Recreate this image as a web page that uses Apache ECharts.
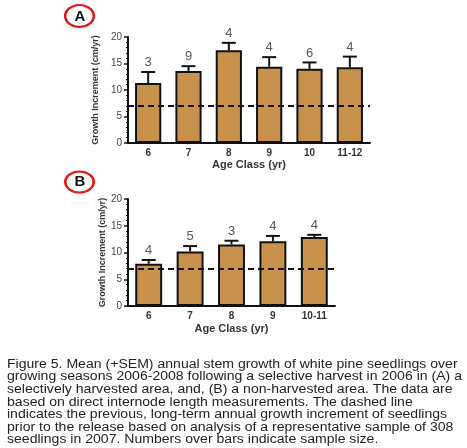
<!DOCTYPE html>
<html><head><meta charset="utf-8">
<script src="https://cdn.jsdelivr.net/npm/echarts@6/dist/echarts.min.js"></script>
<style>html,body{margin:0;padding:0;background:#fff}#c{width:467px;height:448px}</style>
</head><body><div id="c"></div>
<script>
var categoriesA = ['6', '7', '8', '9', '10', '11-12'];
var meanA = [11.3, 13.6, 17.5, 14.4, 14.0, 14.3];
var upperA = [13.4, 14.5, 18.9, 16.2, 15.2, 16.3];
var samplesA = [3, 9, 4, 4, 6, 4];

var categoriesB = ['6', '7', '8', '9', '10-11'];
var meanB = [7.9, 10.2, 11.5, 12.1, 12.9];
var upperB = [8.6, 11.2, 12.2, 13.1, 13.3];
var samplesB = [4, 5, 3, 4, 4];

var baseline = 7;
var yTicks = [0, 5, 10, 15, 20];
var yName = 'Growth Increment (cm/yr)';
var xName = 'Age Class (yr)';
var caption = [
  'Figure 5. Mean (+SEM) annual stem growth of white pine seedlings over',
  'growing seasons 2006-2008 following a selective harvest in 2006 in (A) a',
  'selectively harvested area, and, (B) a non-harvested area. The data are',
  'based on direct internode length measurements. The dashed line',
  'indicates the previous, long-term annual growth increment of seedlings',
  'prior to the release based on analysis of a representative sample of 308',
  'seedlings in 2007. Numbers over bars indicate sample size.'
];

var FONT = 'Liberation Sans, Arial, sans-serif';
var BAR = '#c8924d';

function errData(mean, upper) {
  return mean.map(function (m, i) { return [i, m, upper[i]]; });
}
function errRender(samples) {
  return function (params, api) {
    var x = api.value(0);
    var p0 = api.coord([x, api.value(1)]);
    var p1 = api.coord([x, api.value(2)]);
    var half = 7;
    var st = { stroke: '#111', lineWidth: 2 };
    return {
      type: 'group',
      children: [
        { type: 'line', shape: { x1: p0[0], y1: p0[1], x2: p1[0], y2: p1[1] }, style: st },
        { type: 'line', shape: { x1: p1[0] - half, y1: p1[1], x2: p1[0] + half, y2: p1[1] }, style: st },
        { type: 'text', x: p1[0], y: p1[1] - 3, style: { text: String(samples[params.dataIndex]), align: 'center', verticalAlign: 'bottom', fontSize: 13, fontFamily: FONT, fill: '#555' } }
      ]
    };
  };
}
function xAx(cats, gi, gap) {
  return {
    type: 'category', gridIndex: gi, data: cats,
    name: xName, nameLocation: 'middle', nameGap: gap,
    nameTextStyle: { fontSize: 11, fontWeight: 'bold', color: '#333', fontFamily: FONT },
    axisLine: { lineStyle: { color: '#111', width: 2 } },
    axisTick: { alignWithLabel: true, length: 3, lineStyle: { color: '#111', width: 1.5 } },
    axisLabel: { fontSize: 10, fontWeight: 'bold', color: '#333', margin: 5, fontFamily: FONT }
  };
}
function yAx(gi) {
  return {
    type: 'value', gridIndex: gi, min: yTicks[0], max: yTicks[yTicks.length - 1], interval: yTicks[1] - yTicks[0],
    name: yName, nameLocation: 'middle', nameGap: 20, nameRotate: 90,
    nameTextStyle: { fontSize: 9, fontWeight: 'bold', color: '#333', fontFamily: FONT },
    axisLine: { show: true, lineStyle: { color: '#111', width: 2 } },
    axisTick: { show: true, length: 4, lineStyle: { color: '#111', width: 1.5 } },
    minorTick: { show: true, splitNumber: 5, length: 2, lineStyle: { color: '#111', width: 1 } },
    splitLine: { show: false },
    axisLabel: { fontSize: 10, color: '#444', margin: 6, fontFamily: FONT }
  };
}
function markLine() {
  return {
    silent: true, symbol: 'none', label: { show: false },
    lineStyle: { color: '#111', width: 2, type: [6, 4] },
    data: [{ yAxis: baseline }]
  };
}

var chart = echarts.init(document.getElementById('c'));
chart.setOption({
  backgroundColor: '#fff',
  animation: false,
  grid: [
    { left: 128, right: 97, top: 37, bottom: 305 },
    { left: 128, right: 132, top: 199, bottom: 142 }
  ],
  xAxis: [xAx(categoriesA, 0, 16), xAx(categoriesB, 1, 17)],
  yAxis: [yAx(0), yAx(1)],
  series: [
    { type: 'bar', xAxisIndex: 0, yAxisIndex: 0, data: meanA, barWidth: '65%',
      itemStyle: { color: BAR, borderColor: '#111', borderWidth: 2 }, markLine: markLine(), z: 2 },
    { type: 'custom', xAxisIndex: 0, yAxisIndex: 0, data: errData(meanA, upperA), renderItem: errRender(samplesA), z: 3 },
    { type: 'bar', xAxisIndex: 1, yAxisIndex: 1, data: meanB, barWidth: '65%',
      itemStyle: { color: BAR, borderColor: '#111', borderWidth: 2 }, markLine: markLine(), z: 2 },
    { type: 'custom', xAxisIndex: 1, yAxisIndex: 1, data: errData(meanB, upperB), renderItem: errRender(samplesB), z: 3 }
  ],
  graphic: [
    { type: 'circle', x: 79.5, y: 16, scaleX: 1.3, shape: { cx: 0, cy: 0, r: 11 }, style: { fill: 'none', stroke: '#e01818', lineWidth: 2 } },
    { type: 'text', x: 80, y: 17, style: { text: 'A', fontSize: 15, fontWeight: 'bold', fill: '#111', align: 'center', verticalAlign: 'middle', fontFamily: FONT } },
    { type: 'circle', x: 79.5, y: 182, scaleX: 1.35, shape: { cx: 0, cy: 0, r: 10.5 }, style: { fill: 'none', stroke: '#e01818', lineWidth: 2 } },
    { type: 'text', x: 80, y: 182, style: { text: 'B', fontSize: 15, fontWeight: 'bold', fill: '#111', align: 'center', verticalAlign: 'middle', fontFamily: FONT } },
    { type: 'text', x: 7, y: 358, scaleX: 1.125, style: { text: caption.join('\n'), fontSize: 12.5, lineHeight: 12.6, fill: '#222', fontFamily: FONT } }
  ]
});
</script>
</body></html>
